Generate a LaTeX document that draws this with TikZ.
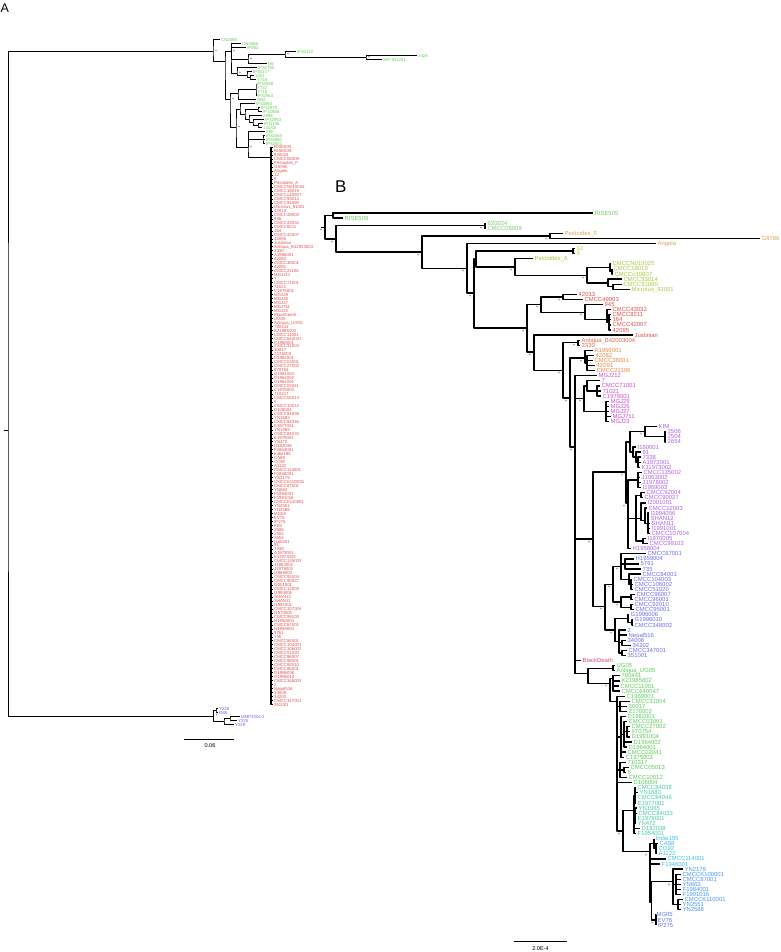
\documentclass[tikz,border=0pt]{standalone}
\usepackage{fontspec}
\setmainfont{Liberation Sans}
\definecolor{aGrn}{HTML}{5CCF4C}
\definecolor{aRed}{HTML}{E05050}
\definecolor{aBlu}{HTML}{6666E6}
\definecolor{cRise}{HTML}{72CC62}
\definecolor{cTan}{HTML}{D9A35E}
\definecolor{cYel}{HTML}{CCC833}
\definecolor{cYG}{HTML}{A6C840}
\definecolor{cRed}{HTML}{E0504A}
\definecolor{cOR}{HTML}{E0664A}
\definecolor{cOr}{HTML}{E5894A}
\definecolor{cMag}{HTML}{D04CD0}
\definecolor{cPur}{HTML}{AE62E2}
\definecolor{cInd}{HTML}{6E6EE2}
\definecolor{cBD}{HTML}{E04C78}
\definecolor{cGrn}{HTML}{5CCB5C}
\definecolor{cTeal}{HTML}{48CB9E}
\definecolor{cCyan}{HTML}{40BEE0}
\definecolor{cSky}{HTML}{4A98E8}
\definecolor{cBlu}{HTML}{5B7BE8}
\tikzset{
  br/.style={line width=1.3pt},
  abr/.style={line width=1pt},
  btip/.style={anchor=west, inner xsep=1.5pt, inner ysep=0pt, text height=4.1pt, text depth=0pt,
    font=\fontsize{5.9}{6}\selectfont},
  atip/.style={anchor=west, inner xsep=1pt, inner ysep=0pt, text height=3.05pt, text depth=0pt,
    font=\fontsize{4.3}{4.5}\selectfont},
  ast/.style={inner sep=0pt, text=black!75, font=\fontsize{5}{5}\selectfont},
  panel/.style={anchor=north west, inner sep=0pt},
  sclab/.style={inner sep=0pt, font=\fontsize{5.6}{6}\selectfont},
}
\begin{document}
\begin{tikzpicture}[x=1pt, y=-1pt, line join=round]
\useasboundingbox (0,0) rectangle (780,952);

% ---------------- panel A
\node[panel, font=\fontsize{12.5}{13}\selectfont] (labA) at (0.5,3.3) {A};
\begin{scope}[y=-3.98pt, shift={(0pt,-36.02pt)}]
  \foreach \t/\lab [count=\r from 1] in {220/CN2088,241/CN3066,246/IP562,296/IP30422,417/1428,
      382/WP-931201,267/N6,257/IP32790,252/IP33177,254/1201,256/Y718,256/IP32938,256/Y722,
      256/Y716,256/IP32944,256/NB2,255/IP33064,260/IP32970,262/IP32936,262/2888,264/IP32953,
      263/IP11136,262/{141/02},265/280,265/IP32463,265/IP32881,265/IP32921}
    \node[atip, text=aGrn] (a\r) at (\t,\r) {\lab};
  \foreach \lab [count=\r from 28] in {RISE505,RISE509,620024,CMCC05009,Pestoides\_F,G8786,
      Angola,12,9,Pestoides\_A,CMCCN010025,CMCC18019,CMCCo10807,CMCC93014,CMCC91090,
      Microtus\_91001,42013,CMCC49003,945,CMCC43032,CMCC8211,164,CMCC42007,42095,Justinian,
      Antiqua\_B42003004,2330,A1956001,42082,CMCC38001,42091,CMCC21106,MGJ212,7,CMCC71001,
      71021,C1976001,MGJ29,MGJ26,MGJ27,MGJ711,MGJ23,BlackDeath,UG05,Antiqua\_UG05,780441,
      K21985002,CMCC11001,CMCC640047,C1969001,CMCC31004,30017,Z176003,D1982001,CMCC03001,
      CMCC27002,970754,D1991004,D1964002,D1964001,CMCC02041,C1975003,710317,CMCC05013,5,
      CMCC10012,D106004,CMCC84038,YN1683,CMCC84046,E1977001,YN1065,CMCC84033,E1979001,YN472,
      D182038,F1954001,India195,CA88,CO92,A1122,CMCC114001,F1946001,YN2179,CMCCK100001,
      CMCC87001,YN663,F1984001,F1991016,CMCCK110001,YN2551,YN2588,MG05,EV76,IP275,KIM,2506,
      2504,2654,I160001,91,7338,A1973001,K11973002,CMCC135002,J1963002,J1978002,I1969003,
      CMCC92004,CMCC90027,I2001001,CMCC12003,I1994006,SHAN12,SHAN11,I1991001,CMCC107004,
      I1970005,CMCC99103,H1958004,CMCC67001,H1959004,5761,735,CMCC84001,CMCC104003,
      CMCC106002,CMCC51020,CMCC96007,CMCC96001,CMCC92010,CMCC95001,G1996006,G1996010,
      CMCC348002,2,Nepal516,34008,34202,CMCC347001,351001}
    \node[atip, text=aRed] (a\r) at (273,\r) {\lab};
  \foreach \t/\lab [count=\r from 169] in {218/Y228,218/R88,240/MMP1004-2,237/Y225,234/Y229}
    \node[atip, text=aBlu] (a\r) at (\t,\r) {\lab};

  \path (8,99) coordinate (rootA)
    (213,4) coordinate (n1)  (225,6.45) coordinate (n2)  (231,4) coordinate (n3)
    (248,5.9) coordinate (n5)  (285,4.75) coordinate (n6)  (366,5.5) coordinate (n6b)
    (237,9.5) coordinate (n7)  (247,10) coordinate (n8)  (250,10.5) coordinate (n9)
    (230,16) coordinate (n10)  (238,14.5) coordinate (n11)  (256,13.5) coordinate (n11b)
    (236,23) coordinate (n20)  (240,18.4) coordinate (n12)  (245,19.7) coordinate (n13)
    (258,18.5) coordinate (n14)  (249,20.9) coordinate (n15)  (253,21.8) coordinate (n16)
    (258,22.5) coordinate (n17)  (248,28) coordinate (n18)  (263,26) coordinate (n19)
    (271,30.6) coordinate (nRed)
    (213.7,170.9) coordinate (nAb)  (216,169.5) coordinate (nAb1)
    (224,172.2) coordinate (nAb2)  (230,171.5) coordinate (nAb3);
\end{scope}

\draw[abr] (n1) -| (rootA) |- (nAb);
\draw[abr] (rootA) -- ++(-4pt,0pt);
\draw[abr] (a1.west) -| (n1) |- (n2);
\draw[abr] (n3) -| (n2) |- (n10);
\draw[abr] (a2.west) -| (n3) |- (n7);
\draw[abr] (n3) |- (a3.west);
\draw[abr] (n3) |- (n5);
\draw[abr] (n6) -| (n5) |- (a7.west);
\draw[abr] (a4.west) -| (n6) |- (n6b);
\draw[abr] (a5.west) -| (n6b) |- (a6.west);
\draw[abr] (a8.west) -| (n7) |- (n8);
\draw[abr] (a9.west) -| (n8) |- (n9);
\draw[abr] (a10.west) -| (n9) |- (a11.west);
\draw[abr] (n11) -| (n10) |- (n20);
\draw[abr] (n11b) -| (n11) |- (a16.west);
\draw[abr] (a12.west) -| (n11b) |- (a15.west);
\draw[abr] (n12) -| (n20) |- (n18);
\draw[abr] (a17.west) -| (n12) |- (n13);
\draw[abr] (n14) -| (n13) |- (n15);
\draw[abr] (a18.west) -| (n14) |- (a19.west);
\draw[abr] (a20.west) -| (n15) |- (n16);
\draw[abr] (a21.west) -| (n16) |- (n17);
\draw[abr] (a22.west) -| (n17) |- (a23.west);
\draw[abr] (a24.west) -| (n18) |- (nRed);
\draw[abr] (n18) |- (n19);
\draw[abr] (a25.west) -| (n19) |- (a27.west);
\draw[abr] (n19) |- (a26.west);
\draw[abr, line width=1.3pt] (a28.west) -| (nRed) |- (a168.west);
\foreach \r in {29,...,167}
  \draw[abr] (a\r.west) -- (nRed |- a\r.west);
\draw[abr] (nAb1) -| (nAb) |- (nAb2);
\draw[abr] (a169.west) -| (nAb1) |- (a170.west);
\draw[abr] (nAb3) -| (nAb2) |- (a173.west);
\draw[abr] (a171.west) -| (nAb3) |- (a172.west);
\foreach \n in {n1,n3,n5,n6,n6b,n7,n10,n18,n20,nAb}
  \node[ast] at ([shift={(3pt,0pt)}]\n) {*};

% scale bar A
\coordinate (sa1) at (184,739);
\coordinate (sa2) at (234,739);
\draw[abr] (sa1) -- (sa2);
\node[sclab] (sAlab) at (210,746) {0.06};

% ---------------- panel B
\node[panel, font=\fontsize{17}{17}\selectfont] (labB) at (335,180.5) {B};
\begin{scope}[y=-5.086pt, shift={(0pt,-207.914pt)}]
  \foreach \t/\lab [count=\r from 1] in {593/RISE505,343/RISE509,486/620024,486/CMCC05009}
    \node[btip, text=cRise] (b\r) at (\t,\r) {\lab};
  \foreach \t/\lab [count=\r from 5] in {563/Pestoides\_F,760/G8786,656/Angola}
    \node[btip, text=cTan] (b\r) at (\t,\r) {\lab};
  \foreach \t/\lab [count=\r from 8] in {575/12,575/9}
    \node[btip, text=cYel] (b\r) at (\t,\r) {\lab};
  \foreach \t/\lab [count=\r from 10] in {533/Pestoides\_A,611/CMCCN010025,612/CMCC18019,
      613/CMCCo10807,622/CMCC93014,622/CMCC91090,630/Microtus\_91001}
    \node[btip, text=cYG] (b\r) at (\t,\r) {\lab};
  \foreach \t/\lab [count=\r from 17] in {577/42013,583/CMCC49003,603/945,611/CMCC43032,
      611/CMCC8211,611/164,611/CMCC42007,611/42095,633/Justinian}
    \node[btip, text=cRed] (b\r) at (\t,\r) {\lab};
  \foreach \t/\lab [count=\r from 26] in {580/Antiqua\_B42003004,580/2330}
    \node[btip, text=cOR] (b\r) at (\t,\r) {\lab};
  \foreach \t/\lab [count=\r from 28] in {593/A1956001,594/42082,593/CMCC38001,595/42091,
      595/CMCC21106}
    \node[btip, text=cOr] (b\r) at (\t,\r) {\lab};
  \foreach \t/\lab [count=\r from 33] in {597/MGJ212,600/7,600/CMCC71001,601/71021,
      601/C1976001,609/MGJ29,609/MGJ26,609/MGJ27,611/MGJ711,609/MGJ23}
    \node[btip, text=cMag] (b\r) at (\t,\r) {\lab};
  \foreach \t/\lab [count=\r from 43] in {657/KIM,666/2506,666/2504,666/2654,636/I160001,
      641/91,641/7338,641/A1973001,640/K11973002,642/CMCC135002,640/J1963002,641/J1978002,
      641/I1969003,645/CMCC92004,643/CMCC90027,646/I2001001,647/CMCC12003,649/I1994006,
      649/SHAN12,650/SHAN11,650/I1991001,650/CMCC107004,646/I1970005,648/CMCC99103,
      631/H1958004}
    \node[btip, text=cPur] (b\r) at (\t,\r) {\lab};
  \foreach \t/\lab [count=\r from 68] in {646/CMCC67001,634/H1959004,639/5761,641/735,
      641/CMCC84001,632/CMCC104003,633/CMCC106002,633/CMCC51020,635/CMCC96007,633/CMCC96001,
      633/CMCC92010,634/CMCC95001,629/G1996006,633/G1996010,633/CMCC348002,626/2,
      627/Nepal516,626/34008,631/34202,627/CMCC347001,626/351001}
    \node[btip, text=cInd] (b\r) at (\t,\r) {\lab};
  \node[btip, text=cBD] (b89) at (581,89) {BlackDeath};
  \foreach \t/\lab [count=\r from 90] in {615/UG05,615/Antiqua\_UG05,620/780441,620/K21985002,
      619/CMCC11001,620/CMCC640047,625/C1969001,630/CMCC31004,627/30017,627/Z176003,
      626/D1982001,627/CMCC03001,630/CMCC27002,630/970754,630/D1991004,632/D1964002,
      627/D1964001,626/CMCC02041,624/C1975003,626/710317,629/CMCC05013,626/5,627/CMCC10012,
      632/D106004}
    \node[btip, text=cGrn] (b\r) at (\t,\r) {\lab};
  \foreach \t/\lab [count=\r from 114] in {636/CMCC84038,638/YN1683,636/CMCC84046,
      636/E1977001,637/YN1065,637/CMCC84033,636/E1979001,636/YN472,640/D182038,636/F1954001}
    \node[btip, text=cTeal] (b\r) at (\t,\r) {\lab};
  \foreach \t/\lab [count=\r from 124] in {654/India195,658/CA88,657/CO92,657/A1122,
      666/CMCC114001,660/F1946001}
    \node[btip, text=cCyan] (b\r) at (\t,\r) {\lab};
  \foreach \t/\lab [count=\r from 130] in {683/YN2179,681/CMCCK100001,681/CMCC87001,681/YN663,
      681/F1984001,681/F1991016,683/CMCCK110001,681/YN2551,681/YN2588}
    \node[btip, text=cSky] (b\r) at (\t,\r) {\lab};
  \foreach \t/\lab [count=\r from 139] in {655/MG05,656/EV76,656/IP275}
    \node[btip, text=cBlu] (b\r) at (\t,\r) {\lab};

  \path (325,3.8) coordinate (rootB)
    (333,1.5) coordinate (nR)  (336,6.09) coordinate (nS)  (485,3.5) coordinate (n620)
    (422,8.675) coordinate (nT)  (550,5.5) coordinate (nPF)  (467,11.85) coordinate (nU)
    (474,16.7) coordinate (nV)  (476,10.05) coordinate (nW)  (573,8.5) coordinate (n12)
    (515,11.6) coordinate (nPA)  (587,13.25) coordinate (nPA2)  (610,11.75) coordinate (nCM)
    (612,12.5) coordinate (nCM2)  (608,14.75) coordinate (nQ)  (613,15.5) coordinate (nQ2)
    (527,23.6) coordinate (nX)  (541,19) coordinate (n42)  (563,17.5) coordinate (nA1)
    (585,20.5) coordinate (nA2)  (607,22) coordinate (nA3)  (609,22.5) coordinate (nA3b)
    (534,28.3) coordinate (nZ)  (563,31.9) coordinate (nZ2)  (578,26.5) coordinate (nAB)
    (570,37.4) coordinate (nZ3)  (585,29.5) coordinate (nAC)  (587,30.5) coordinate (nAC2)
    (575,47) coordinate (nBig)  (584,37.5) coordinate (nM2)  (587,35) coordinate (nM3)
    (597,36) coordinate (nM3b)  (606,40) coordinate (nM4)
    (593,65.1) coordinate (nPB)  (626,51.9) coordinate (nP1)  (630,46) coordinate (nK)
    (645,44) coordinate (nK1)  (665,45) coordinate (nK2)  (633,48) coordinate (nK3)
    (636,49) coordinate (nK4)  (638,50) coordinate (nK5)  (628,58) coordinate (nL)
    (638,53.5) coordinate (nL1)  (636,61) coordinate (nL2)  (641,56.5) coordinate (nL3)
    (641,61) coordinate (nL4)  (645,61.5) coordinate (nL4b)  (648,62) coordinate (nL4c)
    (643,65.5) coordinate (nL5)
    (605,78.4) coordinate (nBl)  (613,74) coordinate (nB1)  (621,70.5) coordinate (nB2)
    (625,70) coordinate (nB2a)  (629,73) coordinate (nB2b)  (631,74) coordinate (nB2c)
    (621,77.5) coordinate (nB3)  (631,76.5) coordinate (nB3a)  (631,78.5) coordinate (nB3b)
    (615,83) coordinate (nB4)  (628,80.75) coordinate (nB5)  (632,81.5) coordinate (nB5a)
    (619,85.25) coordinate (nB6)  (622,85.5) coordinate (nB6a)  (622,87.5) coordinate (nB6b)
    (588,91.5) coordinate (nGr)  (613,90.5) coordinate (nUG)  (610,93.5) coordinate (nG)
    (613,92.5) coordinate (nG1)  (617,97) coordinate (nG2)  (620,98) coordinate (nG3)
    (621,104) coordinate (nG4)  (624,103.5) coordinate (nG4a)  (627,103) coordinate (nG4b)
    (620,110.5) coordinate (nG5)  (624,110.5) coordinate (nG5a)
    (623,122.5) coordinate (nTC)  (634,118.5) coordinate (nTe)  (635,115.5) coordinate (nTe1)
    (635,119.5) coordinate (nTe2)  (650,126.6) coordinate (nC)  (654,125) coordinate (nC1)
    (656,126) coordinate (nC1a)  (651.5,136.5) coordinate (nC2)  (673,132.5) coordinate (nY)
    (676,133) coordinate (nYa)  (678,137) coordinate (nYb)  (656,140) coordinate (nMG);
\end{scope}

\draw[br] (nR) -| (rootB) |- (nS);
\draw[br] (rootB) -- ++(-4pt,0pt);
\draw[br] (b1.west) -| (nR) |- (b2.west);
\draw[br] (n620) -| (nS) |- (nT);
\draw[br] (b3.west) -| (n620) |- (b4.west);
\draw[br] (nPF) -| (nT) |- (nU);
\draw[br] (b5.west) -| (nPF) |- (b6.west);
\draw[br] (b7.west) -| (nU) |- (nV);
\draw[br] (nW) -| (nV) |- (nX);
\draw[br] (n12) -| (nW) |- (nPA);
\draw[br] (b8.west) -| (n12) |- (b9.west);
\draw[br] (b10.west) -| (nPA) |- (nPA2);
\draw[br] (nCM) -| (nPA2) |- (nQ);
\draw[br] (b11.west) -| (nCM) |- (nCM2);
\draw[br] (b12.west) -| (nCM2) |- (b13.west);
\draw[br] (b14.west) -| (nQ) |- (nQ2);
\draw[br] (b15.west) -| (nQ2) |- (b16.west);
\draw[br] (n42) -| (nX) |- (nZ);
\draw[br] (nA1) -| (n42) |- (nA2);
\draw[br] (b17.west) -| (nA1) |- (b18.west);
\draw[br] (b19.west) -| (nA2) |- (nA3);
\draw[br] (b20.west) -| (nA3) |- (nA3b);
\draw[br] (b21.west) -| (nA3b) |- (b24.west);
\foreach \c in {22,23} \draw[br] (nA3b) |- (b\c.west);
\draw[br] (b25.west) -| (nZ) |- (nZ2);
\draw[br] (nAB) -| (nZ2) |- (nZ3);
\draw[br] (b26.west) -| (nAB) |- (b27.west);
\draw[br] (nAC) -| (nZ3) |- (nBig);
\draw[br] (b28.west) -| (nAC) |- (nAC2);
\draw[br] (b29.west) -| (nAC2) |- (b32.west);
\foreach \c in {30,31} \draw[br] (nAC2) |- (b\c.west);
\draw[br] (b33.west) -| (nBig) |- (nGr);
\foreach \c in {nM2,nPB} \draw[br] (nBig) |- (\c);
\draw[br] (nBig) |- (b89.west);
\draw[br] (nM3) -| (nM2) |- (nM4);
\draw[br] (b34.west) -| (nM3) |- (nM3b);
\draw[br] (b35.west) -| (nM3b) |- (b37.west);
\draw[br] (nM3b) |- (b36.west);
\draw[br] (b38.west) -| (nM4) |- (b42.west);
\foreach \c in {39,40,41} \draw[br] (nM4) |- (b\c.west);
\draw[br] (nP1) -| (nPB) |- (nBl);
\draw[br] (nK) -| (nP1) |- (nL);
\draw[br] (nK1) -| (nK) |- (nK3);
\draw[br] (b43.west) -| (nK1) |- (nK2);
\draw[br] (b44.west) -| (nK2) |- (b46.west);
\draw[br] (nK2) |- (b45.west);
\draw[br] (b47.west) -| (nK3) |- (nK4);
\draw[br] (b48.west) -| (nK4) |- (nK5);
\draw[br] (b49.west) -| (nK5) |- (b51.west);
\draw[br] (nK5) |- (b50.west);
\draw[br] (nL1) -| (nL) |- (b67.west);
\draw[br] (nL) |- (nL2);
\draw[br] (b52.west) -| (nL1) |- (b55.west);
\foreach \c in {53,54} \draw[br] (nL1) |- (b\c.west);
\draw[br] (nL3) -| (nL2) |- (nL5);
\draw[br] (nL2) |- (nL4);
\draw[br] (b56.west) -| (nL3) |- (b57.west);
\draw[br] (b58.west) -| (nL4) |- (nL4b);
\draw[br] (b59.west) -| (nL4b) |- (nL4c);
\draw[br] (b60.west) -| (nL4c) |- (b64.west);
\foreach \c in {61,62,63} \draw[br] (nL4c) |- (b\c.west);
\draw[br] (b65.west) -| (nL5) |- (b66.west);
\draw[br] (nB1) -| (nBl) |- (nB4);
\draw[br] (nB2) -| (nB1) |- (nB3);
\draw[br] (b68.west) -| (nB2) |- (nB2b);
\draw[br] (nB2) |- (nB2a);
\draw[br] (b69.west) -| (nB2a) |- (b71.west);
\draw[br] (nB2a) |- (b70.west);
\draw[br] (b72.west) -| (nB2b) |- (nB2c);
\draw[br] (b73.west) -| (nB2c) |- (b75.west);
\draw[br] (nB2c) |- (b74.west);
\draw[br] (nB3a) -| (nB3) |- (nB3b);
\draw[br] (b76.west) -| (nB3a) |- (b77.west);
\draw[br] (b78.west) -| (nB3b) |- (b79.west);
\draw[br] (nB5) -| (nB4) |- (nB6);
\draw[br] (b80.west) -| (nB5) |- (nB5a);
\draw[br] (b81.west) -| (nB5a) |- (b82.west);
\draw[br] (b83.west) -| (nB6) |- (nB6b);
\draw[br] (nB6) |- (b84.west);
\draw[br] (nB6) |- (nB6a);
\draw[br] (b85.west) -| (nB6a) |- (b86.west);
\draw[br] (b87.west) -| (nB6b) |- (b88.west);
\draw[br] (nUG) -| (nGr) |- (nG);
\draw[br] (b90.west) -| (nUG) |- (b91.west);
\draw[br] (nG1) -| (nG) |- (nG2);
\draw[br] (b92.west) -| (nG1) |- (b95.west);
\foreach \c in {93,94} \draw[br] (nG1) |- (b\c.west);
\draw[br] (b96.west) -| (nG2) |- (nTC);
\foreach \c in {nG3,nG4,nG5,b113.west} \draw[br] (nG2) |- (\c);
\draw[br] (b97.west) -| (nG3) |- (b99.west);
\draw[br] (nG3) |- (b98.west);
\draw[br] (b100.west) -| (nG4) |- (b108.west);
\foreach \c in {nG4a,b107.west} \draw[br] (nG4) |- (\c);
\draw[br] (b101.west) -| (nG4a) |- (b106.west);
\foreach \c in {nG4b,b105.west} \draw[br] (nG4a) |- (\c);
\draw[br] (b102.west) -| (nG4b) |- (b104.west);
\draw[br] (nG4b) |- (b103.west);
\draw[br] (b109.west) -| (nG5) |- (b112.west);
\draw[br] (nG5) |- (nG5a);
\draw[br] (b110.west) -| (nG5a) |- (b111.west);
\draw[br] (nTe) -| (nTC) |- (nC);
\draw[br] (nTe1) -| (nTe) |- (b123.west);
\foreach \c in {nTe2,b122.west} \draw[br] (nTe) |- (\c);
\draw[br] (b114.west) -| (nTe1) |- (b117.west);
\foreach \c in {115,116} \draw[br] (nTe1) |- (b\c.west);
\draw[br] (b118.west) -| (nTe2) |- (b121.west);
\foreach \c in {119,120} \draw[br] (nTe2) |- (b\c.west);
\draw[br] (nC1) -| (nC) |- (nC2);
\foreach \c in {128,129} \draw[br] (nC) |- (b\c.west);
\draw[br] (b124.west) -| (nC1) |- (nC1a);
\draw[br] (b125.west) -| (nC1a) |- (b127.west);
\draw[br] (nC1a) |- (b126.west);
\draw[br] (nY) -| (nC2) |- (nMG);
\draw[br] (b130.west) -| (nY) |- (nYb);
\draw[br] (nY) |- (nYa);
\draw[br] (b131.west) -| (nYa) |- (b135.west);
\foreach \c in {132,133,134} \draw[br] (nYa) |- (b\c.west);
\draw[br] (b136.west) -| (nYb) |- (b138.west);
\draw[br] (nYb) |- (b137.west);
\draw[br] (b139.west) -| (nMG) |- (b141.west);
\draw[br] (nMG) |- (b140.west);
\foreach \n in {rootB,nS,n620,nT,nPF,nU,nV,nPA,nPA2,n42,nA1,nA2,nX,nZ,nZ2,nAB,nAC,nZ3,
    nM2,nBig,nK1,nK,nP1,nL,nPB,nB2,nB1,nB3,nBl,nB4,nG,nTC,nC,nY,nMG}
  \node[ast] at ([shift={(-4pt,-3.5pt)}]\n) {*};

% scale bar B
\coordinate (sb1) at (514,941.7);
\coordinate (sb2) at (567,941.7);
\draw[br] (sb1) -- (sb2);
\node[sclab] (sBlab) at (540.5,949) {2.0E-4};
\end{tikzpicture}
\end{document}
